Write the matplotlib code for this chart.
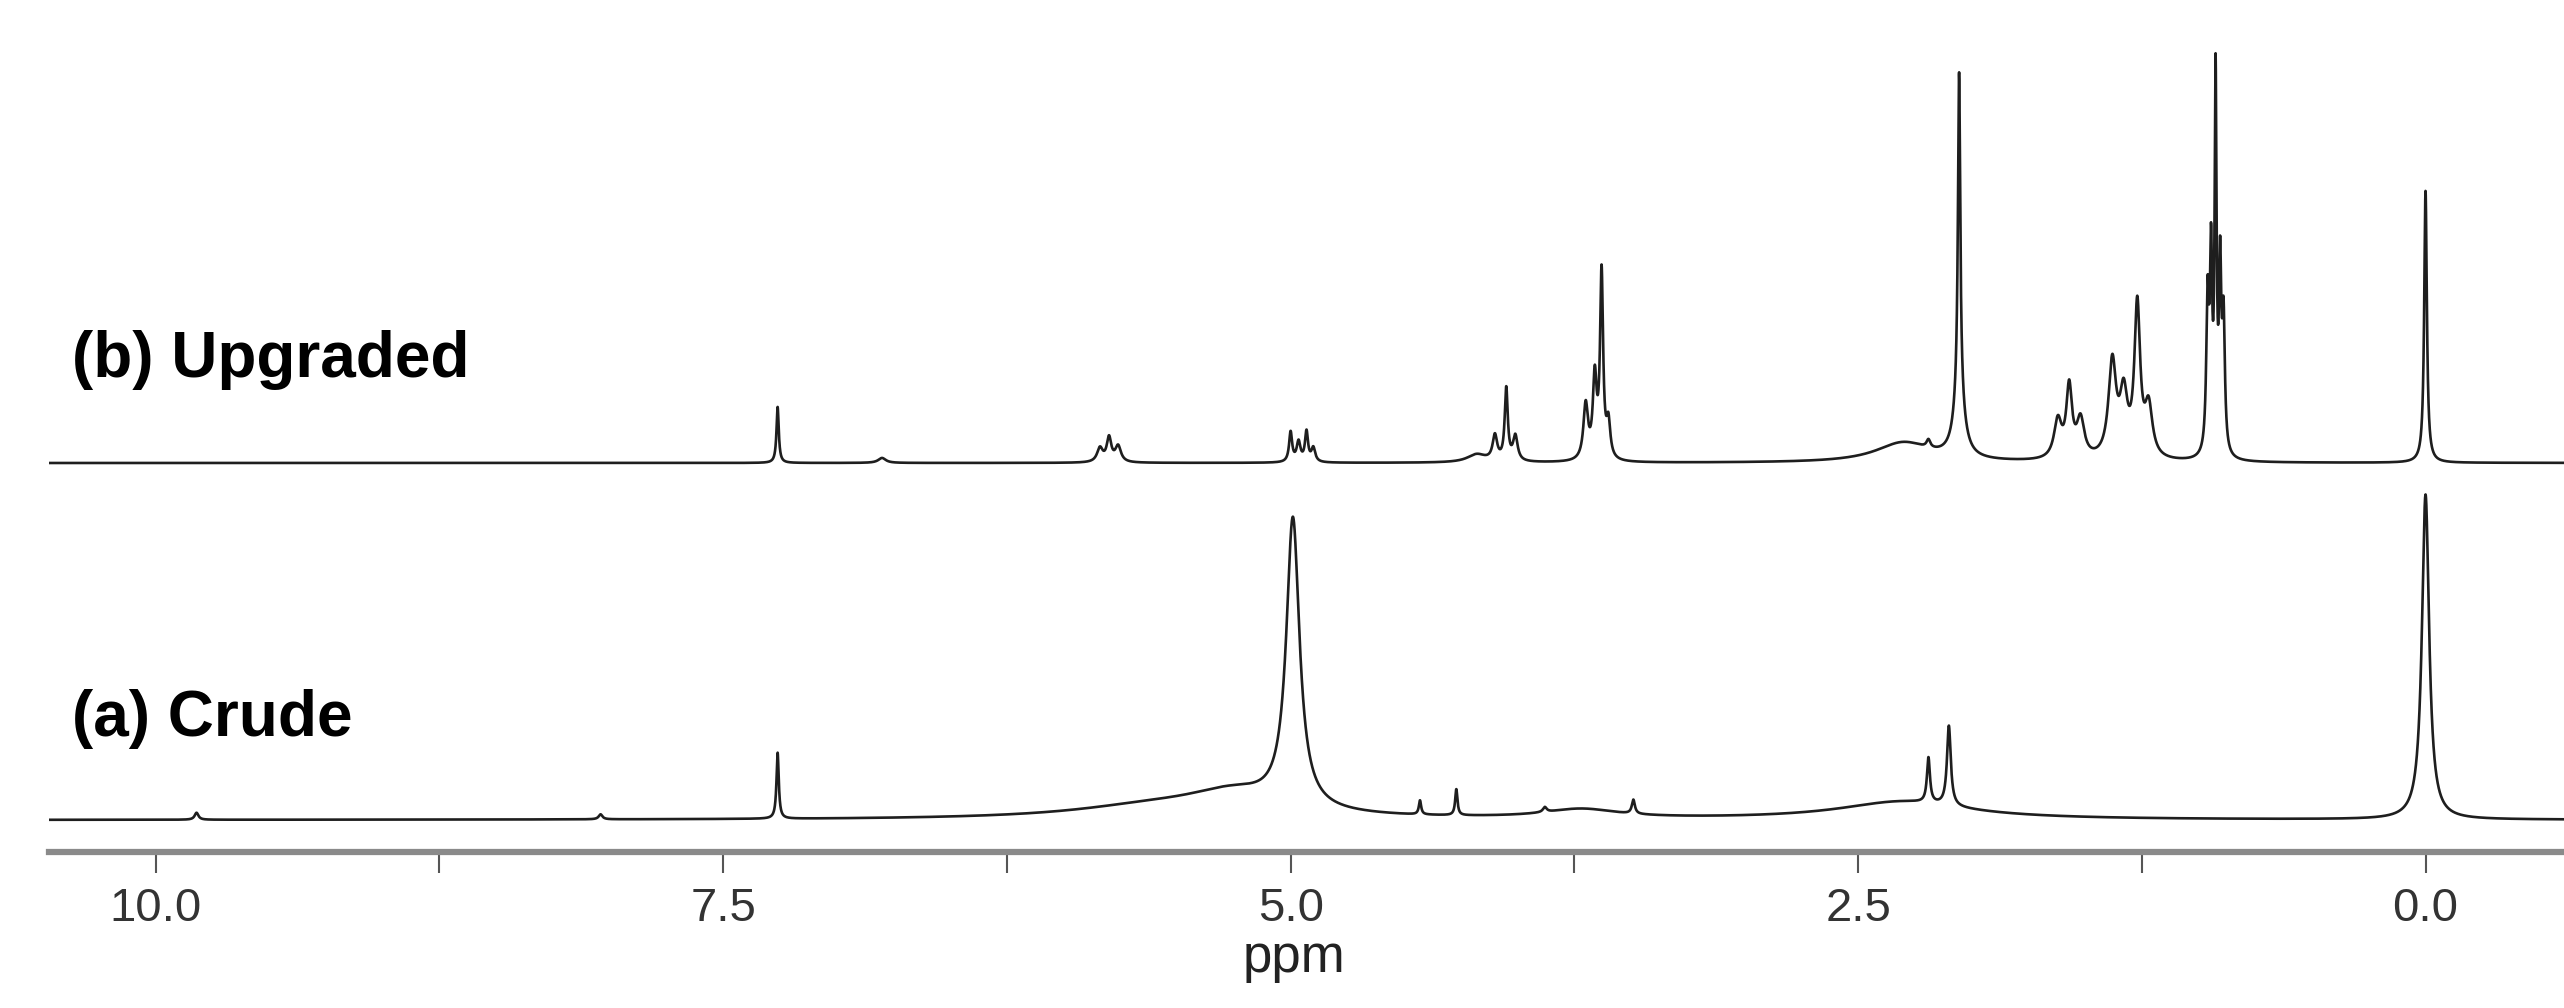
import numpy as np
import matplotlib
matplotlib.use('Agg')
import matplotlib.pyplot as plt
from matplotlib.ticker import MultipleLocator

# peak tables: shift (ppm), height, half width (ppm)
up_shift = [7.26, 6.80, 5.84, 5.80, 5.76, 5.00, 4.965, 4.93, 4.90,
            4.18, 4.10, 4.05, 4.01, 3.70, 3.66, 3.63, 3.60,
            2.30, 2.19, 2.055, 2.055, 1.62, 1.57, 1.52, 1.38, 1.33, 1.27, 1.22,
            0.96, 0.945, 0.925, 0.905, 0.89, 0.0]
up_height = [56, 5, 14, 24, 16, 30, 20, 30, 14,
             8, 25, 72, 25, 55, 80, 185, 35,
             20, 8, 320, 65, 38, 70, 38, 95, 60, 150, 50,
             150, 185, 368, 175, 130, 272]
up_width = [0.006, 0.02, 0.015, 0.012, 0.015, 0.008, 0.01, 0.008, 0.01,
            0.05, 0.012, 0.008, 0.012, 0.012, 0.01, 0.008, 0.01,
            0.15, 0.01, 0.006, 0.025, 0.02, 0.015, 0.02, 0.02, 0.02, 0.015, 0.02,
            0.007, 0.006, 0.005, 0.006, 0.007, 0.007]

crude_shift = [9.82, 8.04, 7.26, 5.60, 5.25, 4.99, 4.43, 4.27,
               3.88, 3.72, 3.49, 2.30, 2.19, 2.10, 0.0]
crude_height = [7, 5, 66, 12, 22, 288, 14, 26,
                5, 9, 14, 18, 45, 80, 325]
crude_width = [0.01, 0.01, 0.006, 0.45, 0.25, 0.035, 0.006, 0.006,
               0.01, 0.2, 0.008, 0.35, 0.008, 0.01, 0.019]

labels = ['(b) Upgraded', '(a) Crude']
major_ticks = [10.0, 7.5, 5.0, 2.5, 0.0]

up_offset = 389
crude_offset = 32


def spectrum(x, shifts, heights, widths):
    y = np.zeros_like(x)
    for c, h, w in zip(shifts, heights, widths):
        y += h * w**2 / ((x - c)**2 + w**2)
    return y


ppm = np.linspace(10.47, -0.61, 30000)

fig = plt.figure(figsize=(25.64, 10.08), dpi=100)
ax = fig.add_axes([49 / 2564, 156 / 1008, 1 - 49 / 2564, 852 / 1008])

ax.plot(ppm, up_offset + spectrum(ppm, up_shift, up_height, up_width),
        color='#1e1e1e', lw=1.9)
ax.plot(ppm, crude_offset + spectrum(ppm, crude_shift, crude_height, crude_width),
        color='#1e1e1e', lw=1.9)

ax.set_xlim(10.47, -0.61)
ax.set_ylim(0, 852)

for s in ['top', 'left', 'right']:
    ax.spines[s].set_visible(False)
ax.spines['bottom'].set_color('#8a8a8a')
ax.spines['bottom'].set_linewidth(4.5)
ax.set_yticks([])

ax.set_xticks(major_ticks)
ax.set_xticklabels([f'{t:.1f}' for t in major_ticks])
ax.xaxis.set_minor_locator(MultipleLocator(1.25))
ax.tick_params(axis='x', which='both', direction='out', length=15,
               width=1.5, color='#555555')
ax.tick_params(axis='x', which='major', labelsize=34, pad=10,
               labelcolor='#333333')
for lab in ax.get_xticklabels():
    lab.set_family('Liberation Sans')

ax.set_xlabel('ppm', fontsize=38, family='Liberation Sans', color='#222222')
ax.xaxis.label.set_va('baseline')
ax.xaxis.set_label_coords(0.495, -0.1403)

fig.text(0.028, 0.626, labels[0], fontsize=46, fontweight='bold',
         family='Liberation Sans', va='baseline')
fig.text(0.028, 0.270, labels[1], fontsize=46, fontweight='bold',
         family='Liberation Sans', va='baseline')

fig.savefig('out.png', dpi=100)
